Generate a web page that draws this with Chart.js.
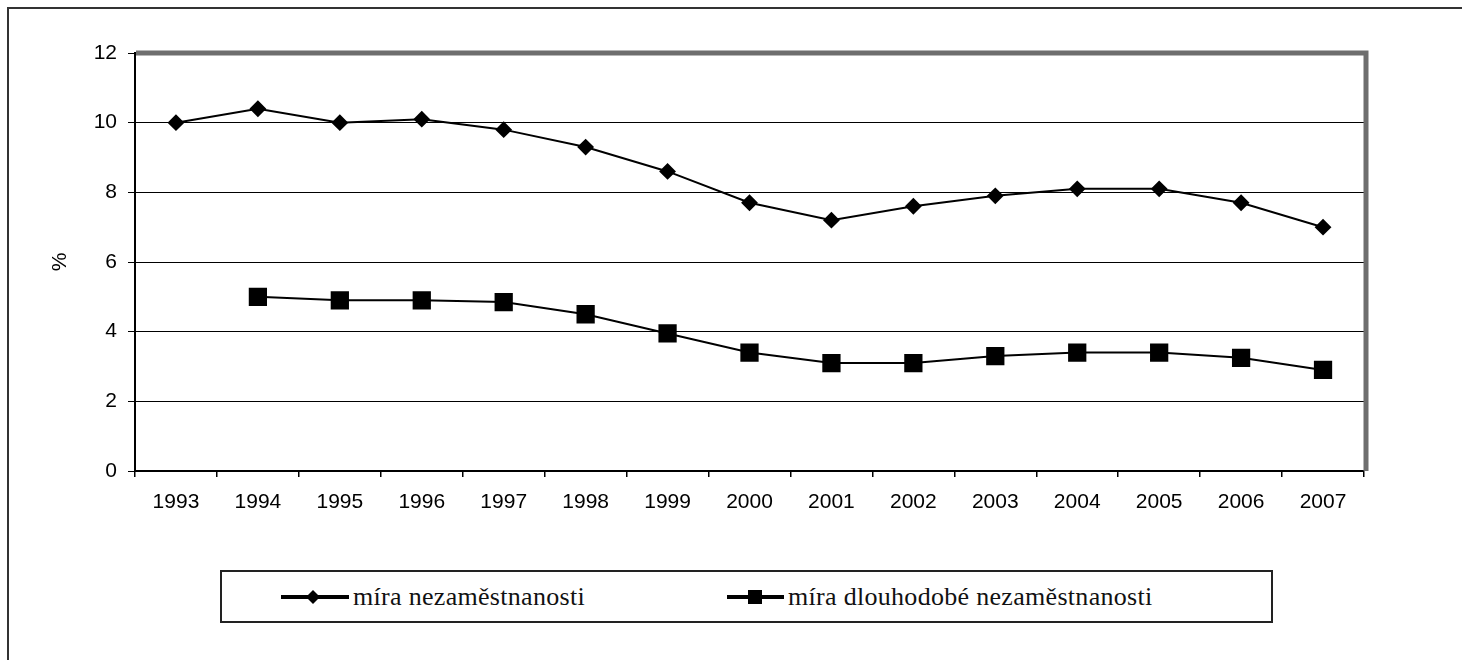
<!DOCTYPE html>
<html>
<head>
<meta charset="UTF-8">
<title>Míra nezaměstnanosti</title>
<script src="https://cdn.jsdelivr.net/npm/chart.js"></script>
<style>
    body { margin: 0; background: #fff; width: 1462px; height: 660px; overflow: hidden; position: relative; }
    .ramecek { position: absolute; left: 7px; top: 7px; width: 1480px; height: 700px; border-left: 2px solid #333; border-top: 2px solid #333; }
    #graf { position: absolute; left: 0; top: 0; }
    .legenda { position: absolute; left: 220px; top: 570px; width: 1053px; height: 53px; border: 2px solid #222; box-sizing: border-box;
        font-family: 'Liberation Serif', 'Times New Roman', serif; font-size: 26px; letter-spacing: 0.3px; color: #111; }
    .polozka { position: absolute; top: 0; height: 100%; display: flex; align-items: center; }
    .polozka svg { margin-right: 4px; }
</style>
</head>
<body>
    <div class="ramecek"></div>
    <canvas id="graf" width="1462" height="540"></canvas>

    <div class="legenda">
        <div class="polozka" style="left: 59px;">
            <svg width="68" height="20"><line x1="0" y1="10" x2="68" y2="10" stroke="#000" stroke-width="4"/><polygon points="32,3 39,10 32,17 25,10" fill="#000"/></svg>
            <span>míra nezaměstnanosti</span>
        </div>
        <div class="polozka" style="left: 505px;">
            <svg width="57" height="20"><line x1="0" y1="10" x2="57" y2="10" stroke="#000" stroke-width="4"/><rect x="21" y="3" width="14" height="14" fill="#000"/></svg>
            <span>míra dlouhodobé nezaměstnanosti</span>
        </div>
    </div>

<script>
    // data
    var roky = ['1993', '1994', '1995', '1996', '1997', '1998', '1999', '2000', '2001', '2002', '2003', '2004', '2005', '2006', '2007'];
    var miraNezamestnanosti = [10.0, 10.4, 10.0, 10.1, 9.8, 9.3, 8.6, 7.7, 7.2, 7.6, 7.9, 8.1, 8.1, 7.7, 7.0];
    var miraDlouhodobe = [null, 5.0, 4.9, 4.9, 4.85, 4.5, 3.95, 3.4, 3.1, 3.1, 3.3, 3.4, 3.4, 3.25, 2.9];
    var osaYmin = 0, osaYmax = 12, osaYkrok = 2;

    // sedy ramecek nahore a vpravo
    const okraj = {
        id: 'okraj',
        afterDraw(chart) {
            const ctx = chart.ctx, a = chart.chartArea;
            ctx.save();
            ctx.strokeStyle = '#6e6e6e';
            ctx.lineWidth = 5;
            ctx.beginPath();
            ctx.moveTo(a.left + 1, a.top);
            ctx.lineTo(a.right + 2, a.top);
            ctx.lineTo(a.right + 2, a.bottom);
            ctx.stroke();
            ctx.restore();
        }
    };

    Chart.defaults.font.family = "'Liberation Sans', Arial, sans-serif";
    Chart.defaults.color = '#000';

    new Chart(document.getElementById('graf'), {
        type: 'line',
        data: {
            labels: roky,
            datasets: [{
                label: 'míra nezaměstnanosti',
                data: miraNezamestnanosti,
                borderColor: '#000',
                borderWidth: 2,
                pointStyle: 'rectRot',
                pointRadius: 7,
                pointBackgroundColor: '#000',
                pointBorderColor: '#000',
                tension: 0
            }, {
                label: 'míra dlouhodobé nezaměstnanosti',
                data: miraDlouhodobe,
                borderColor: '#000',
                borderWidth: 2,
                pointStyle: 'rect',
                pointRadius: 11.5,
                pointBackgroundColor: '#000',
                pointBorderColor: '#000',
                tension: 0
            }]
        },
        options: {
            responsive: false,
            animation: false,
            layout: { padding: { left: 48, right: 98, top: 53, bottom: 0 } },
            plugins: { legend: { display: false }, tooltip: { enabled: false } },
            scales: {
                x: {
                    offset: true,
                    grid: { offset: true, drawOnChartArea: false, drawTicks: true, tickLength: 6, color: '#000', lineWidth: 1.5 },
                    border: { color: '#000', width: 2 },
                    ticks: { font: { size: 21 }, padding: 13, maxRotation: 0, autoSkip: false },
                    afterFit: function (s) { s.height = 540 - 471; }
                },
                y: {
                    min: osaYmin,
                    max: osaYmax,
                    ticks: { stepSize: osaYkrok, font: { size: 21 }, padding: 11 },
                    grid: { color: '#000', lineWidth: 1, tickLength: 7 },
                    border: { color: '#000', width: 2 },
                    title: { display: true, text: '%', font: { size: 21 }, padding: 0 },
                    afterFit: function (s) { s.width = 135 - 48; }
                }
            }
        },
        plugins: [okraj]
    });
</script>
</body>
</html>
